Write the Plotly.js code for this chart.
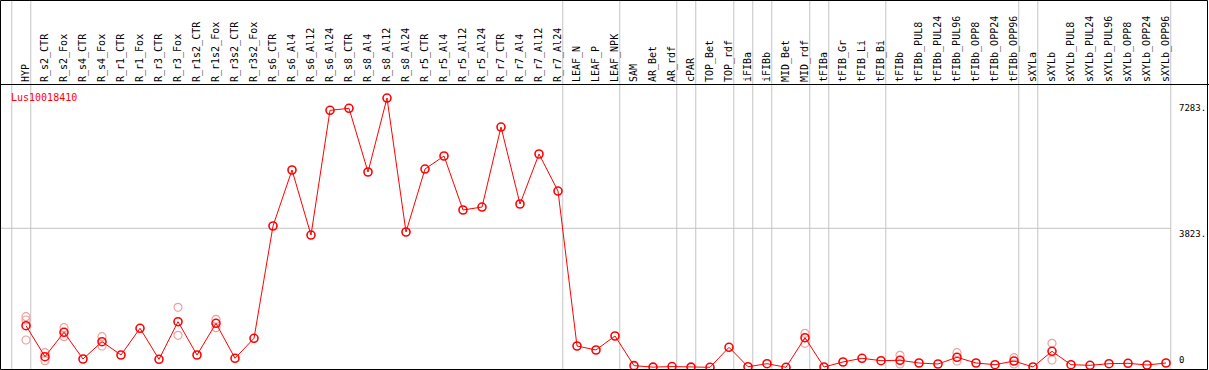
<!DOCTYPE html>
<html>
<head>
<meta charset="utf-8">
<script src="https://cdn.plot.ly/plotly-3.0.1.min.js"></script>
<style>html,body{margin:0;padding:0;background:#fff;}#chart{width:1209px;height:370px;}</style>
</head>
<body>
<div id="chart"></div>
<script>
const geneName = 'Lus10018410';

const categories = ['HYP','R_s2_CTR','R_s2_Fox','R_s4_CTR','R_s4_Fox','R_r1_CTR','R_r1_Fox','R_r3_CTR','R_r3_Fox',
  'R_r1s2_CTR','R_r1s2_Fox','R_r3s2_CTR','R_r3s2_Fox','R_s6_CTR','R_s6_Al4','R_s6_Al12','R_s6_Al24',
  'R_s8_CTR','R_s8_Al4','R_s8_Al12','R_s8_Al24','R_r5_CTR','R_r5_Al4','R_r5_Al12','R_r5_Al24',
  'R_r7_CTR','R_r7_Al4','R_r7_Al12','R_r7_Al24','LEAF_N','LEAF_P','LEAF_NPK','SAM','AR_Bet','AR_rdf',
  'cPAR','TOP_Bet','TOP_rdf','iFIBa','iFIBb','MID_Bet','MID_rdf','tFIBa','tFIB_Gr','tFIB_Li','tFIB_Bi',
  'tFIBb','tFIBb_PUL8','tFIBb_PUL24','tFIBb_PUL96','tFIBb_OPP8','tFIBb_OPP24','tFIBb_OPP96',
  'sXYLa','sXYLb','sXYLb_PUL8','sXYLb_PUL24','sXYLb_PUL96','sXYLb_OPP8','sXYLb_OPP24','sXYLb_OPP96'];

const meanValues = [1144,292,963,228,704,338,1073,220,1254,
  338,1210,248,798,3886,5426,3638,7068,
  7123,5371,7406,3721,5453,5811,4326,4408,
  6608,4491,5866,4848,586,476,861,45,5,20,
  5,0,550,16,99,0,814,8,146,248,182,
  193,118,91,275,118,72,173,
  8,440,72,55,99,110,63,118];

const replicateCategories = ['HYP','HYP','HYP','R_s2_CTR','R_s2_CTR','R_s2_Fox','R_s2_Fox','R_s4_Fox','R_s4_Fox',
  'R_r3_Fox','R_r3_Fox','R_r1s2_Fox','R_r1s2_Fox','MID_rdf','MID_rdf','tFIBb','tFIBb',
  'tFIBb_PUL96','tFIBb_PUL96','tFIBb_OPP96','tFIBb_OPP96','sXYLb','sXYLb'];
const replicateValues = [1392,1301,751,402,182,1089,842,842,586,
  1650,880,1320,1089,935,660,330,91,
  402,173,264,91,660,201];

const yTickValues = [0, 3823, 7283];
const yTickLabels = ['0', '3823.', '7283.'];

// groups end after these categories ('' = before the first one)
const groupEnds = ['', 'HYP','R_r7_Al24','LEAF_NPK','AR_rdf','cPAR','TOP_rdf','iFIBa','iFIBb','MID_rdf',
  'tFIBa','tFIB_Bi','tFIBb_OPP96','sXYLa','sXYLb_OPP96'];

const W = 1209, H = 370;
const headerPx = 85;
const step = 19, firstPx = 26;
const xr0 = -firstPx / step;
const xr1 = xr0 + W / step;
const zeroPx = 367.3, pxPerUnit = 0.03636;
const yr0 = (zeroPx - H) / pxPerUnit;
const yr1 = (zeroPx - headerPx) / pxPerUnit;

const shapes = [];
groupEnds.forEach(c => {
  const idx = c === '' ? -1 : categories.indexOf(c);
  shapes.push({type:'line', xref:'x', yref:'paper', x0: idx + 0.25, x1: idx + 0.25, y0: 0, y1: 1,
    line:{color:'#c4c4c4', width:1}, layer:'below'});
});
const lastSep = categories.length - 1 + 0.25;
shapes.push({type:'line', xref:'x', yref:'y', x0: xr0, x1: lastSep, y0: yTickValues[1], y1: yTickValues[1],
  line:{color:'#c4c4c4', width:1}, layer:'below'});
// frame
shapes.push({type:'rect', xref:'paper', yref:'paper', x0: 0.5/W, x1: 1207.5/W, y0: 1 - 369.5/H, y1: 1 - 0.5/H,
  line:{color:'#000', width:1}, fillcolor:'rgba(0,0,0,0)'});

const annotations = [{
  text: geneName, xref:'paper', yref:'paper', x: 9/W, y: 1 - 97.5/H, xanchor:'left', yanchor:'middle',
  showarrow:false, font:{family:'DejaVu Sans Mono', size:10, color:'#ff0000'}
}];
yTickValues.forEach((v, i) => {
  annotations.push({
    text: yTickLabels[i], xref:'paper', yref:'y', x: 1177/W, y: v,
    xanchor:'left', yanchor: v === 0 ? 'bottom' : 'top', yshift: v === 0 ? 0 : 1,
    showarrow:false, font:{family:'DejaVu Sans Mono', size:9, color:'#000'}
  });
});

const traces = [
  {x: replicateCategories, y: replicateValues, type:'scatter', mode:'markers',
   marker:{symbol:'circle-open', size:8, color:'#f0a0a0', line:{width:1.2, color:'#f0a0a0'}},
   hoverinfo:'skip'},
  {x: categories, y: meanValues, type:'scatter', mode:'lines+markers',
   line:{color:'#ff0000', width:1},
   marker:{symbol:'circle-open', size:8, color:'#ff0000', line:{width:1.6, color:'#ff0000'}}}
];

const layout = {
  width: W, height: H,
  margin:{l:0, r:0, t:0, b:0, pad:0},
  paper_bgcolor:'#fff', plot_bgcolor:'rgba(0,0,0,0)',
  showlegend:false,
  xaxis:{type:'category', categoryorder:'array', categoryarray: categories, side:'top', anchor:'y',
    range:[xr0, xr1], tickangle:-90, ticks:'', showgrid:false, zeroline:false,
    showline:true, linecolor:'#000', linewidth:1, automargin:false,
    tickfont:{family:'DejaVu Sans Mono', size:10, color:'#000'}},
  yaxis:{domain:[0, (H - headerPx)/H], range:[yr0, yr1], showticklabels:false, showgrid:false,
    zeroline:false, showline:false, ticks:'', automargin:false},
  shapes: shapes,
  annotations: annotations
};

Plotly.newPlot('chart', traces, layout, {staticPlot:true, displayModeBar:false});
</script>
</body>
</html>
